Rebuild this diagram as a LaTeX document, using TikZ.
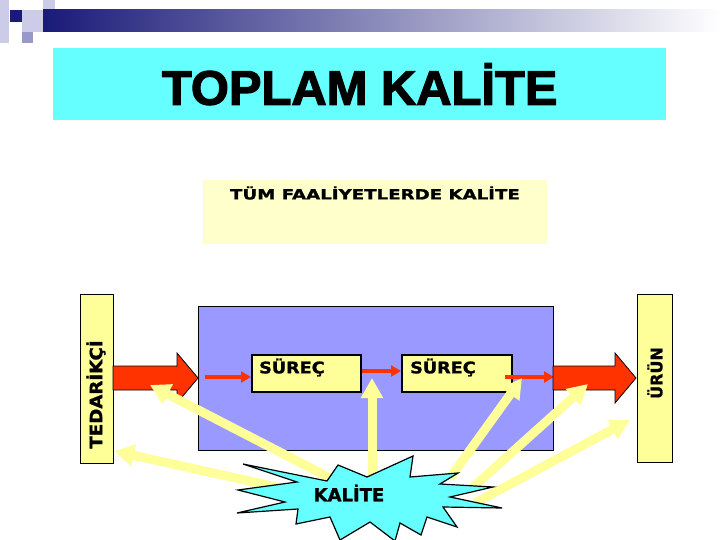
\documentclass[tikz,border=0pt]{standalone}
\usepackage{fontspec}
\setmainfont{DejaVu Sans}[BoldFeatures={FakeBold=1.2}]
\newfontfamily\titlefont{Liberation Sans}[BoldFeatures={FakeBold=2.5}]
\usepackage{graphicx}
\usetikzlibrary{arrows.meta}
\definecolor{titlecyan}{HTML}{66FFFF}
\definecolor{paleyellow}{HTML}{FFFFCC}
\definecolor{boxyellow}{HTML}{FFFF99}
\definecolor{procpurple}{HTML}{9999FF}
\definecolor{flowred}{HTML}{FF3300}
\definecolor{qualyellow}{HTML}{FFFF99}
\definecolor{navy}{HTML}{1A1A78}
\definecolor{sqlight}{HTML}{CCCCE8}
\definecolor{sqmid}{HTML}{9999C8}
\tikzset{
  plainbox/.style={inner sep=0pt, anchor=north west},
  framebox/.style={draw=black, line width=1pt, inner sep=0pt, anchor=north west},
  lbl/.style={inner sep=0pt, font=\bfseries},
  smallflow/.style={draw=flowred, line width=4pt, -{Triangle[width=11pt,length=10pt]}},
  bigflow/.style={fill=flowred, draw=black, line width=0.8pt},
  qualarrow/.style={draw=qualyellow, line width=9pt, -{Triangle[width=21pt,length=20pt]}},
}
\begin{document}
\begin{tikzpicture}[x=1pt,y=-1pt]
\useasboundingbox (0,0) rectangle (720,540);
% header decoration
\fill[sqlight] (0,0) rectangle (9,43);
\fill[sqlight] (22,10) rectangle (43,32);
\fill[sqlight] (43,0) rectangle (55,10);
\fill[sqmid] (22,32) rectangle (33,43);
\shade[left color=navy, right color=white] (43,10) rectangle (720,32);
\fill[navy] (10,10) rectangle (22,22);
% title
\node[plainbox, fill=titlecyan, minimum width=613pt, minimum height=72pt] (titlebox) at (53,48) {};
\node[inner sep=0pt] (title) at (titlebox.center) {\scalebox{1.04}[1.03]{\titlefont\bfseries\fontsize{47}{47}\selectfont TOPLAM KALİTE}};
% all activities
\node[plainbox, fill=paleyellow, minimum width=344pt, minimum height=64pt] (tum) at (203,180) {};
\node[lbl] (tumtext) at (375,193) {\scalebox{1.3}[1]{\fontsize{14}{14}\selectfont TÜM FAALİYETLERDE KALİTE}};
% supplier / product
\node[framebox, fill=boxyellow, minimum width=33pt, minimum height=169pt] (ted) at (80,294) {};
\node[lbl, rotate=90] (tedtext) at (96,394.5) {\scalebox{1.07}[1]{\fontsize{17}{17}\selectfont TEDARİKÇİ}};
\node[framebox, fill=boxyellow, minimum width=35pt, minimum height=168pt] (urun) at (637,294) {};
\node[lbl, rotate=90] (uruntext) at (655,373) {\fontsize{16}{16}\selectfont ÜRÜN};
% process area
\node[framebox, fill=procpurple, minimum width=355pt, minimum height=144pt] (proc) at (198,306) {};
\node[framebox, line width=1.5pt, fill=boxyellow, minimum width=109pt, minimum height=37pt] (s1) at (251,354) {};
\node[lbl, anchor=west] (s1text) at (259,367.5) {\scalebox{1.1}[1]{\fontsize{16}{16}\selectfont SÜREÇ}};
\node[framebox, line width=1.5pt, fill=boxyellow, minimum width=110pt, minimum height=37pt] (s2) at (401,354) {};
\node[lbl, anchor=west] (s2text) at (410,367.5) {\scalebox{1.1}[1]{\fontsize{16}{16}\selectfont SÜREÇ}};
% small flow arrows
\coordinate (f1s) at (205,377);
\coordinate (f3s) at (505,377);
\draw[smallflow] (f1s) -- (s1.west |- f1s);
\draw[smallflow] (s1.east |- 0,371) -- (s2.west |- 0,371);
\draw[smallflow] (f3s) -- (proc.east |- f3s);
% big flow arrows
\draw[bigflow] (113,366) -- (177,366) -- (177,353) -- (198,378) -- (177,403) -- (177,390) -- (113,390) -- cycle;
\draw[bigflow] (553,366) -- (615,366) -- (615,353) -- (636,378) -- (615,403) -- (615,390) -- (553,390) -- cycle;
% quality arrows
\coordinate (q1s) at (330,478); \coordinate (q1e) at (150,385);
\coordinate (q2s) at (290,490); \coordinate (q2e) at (114,451);
\coordinate (q3s) at (372,478); \coordinate (q3e) at (372,378);
\coordinate (q4s) at (450,478); \coordinate (q4e) at (522,378);
\coordinate (q5s) at (470,490); \coordinate (q5e) at (588,384);
\coordinate (q6s) at (475,503); \coordinate (q6e) at (630,420);
\draw[qualarrow] (q1s) -- (q1e);
\draw[qualarrow] (q2s) -- (q2e);
\draw[qualarrow] (q3s) -- (q3e);
\draw[qualarrow] (q4s) -- (q4e);
\draw[qualarrow] (q5s) -- (q5e);
\draw[qualarrow] (q6s) -- (q6e);
% starburst
\draw[fill=titlecyan, draw=black, line width=1.2pt, line join=miter]
  (243,464) -- (297,482) -- (238,490) -- (285,502) -- (237,513) -- (298,509)
  -- (296,524) -- (330,517) -- (340,540) -- (370,522) -- (395,541) -- (400,523)
  -- (421,535) -- (427,517) -- (457,527) -- (443,507) -- (502,508) -- (450,497)
  -- (493,487) -- (440,484) -- (458,473) -- (410,477) -- (413,456) -- (367,477)
  -- (338,465) -- (327,481) -- cycle;
\node[lbl] (kalite) at (349,493) {\fontsize{18}{18}\selectfont KALİTE};
\end{tikzpicture}
\end{document}
